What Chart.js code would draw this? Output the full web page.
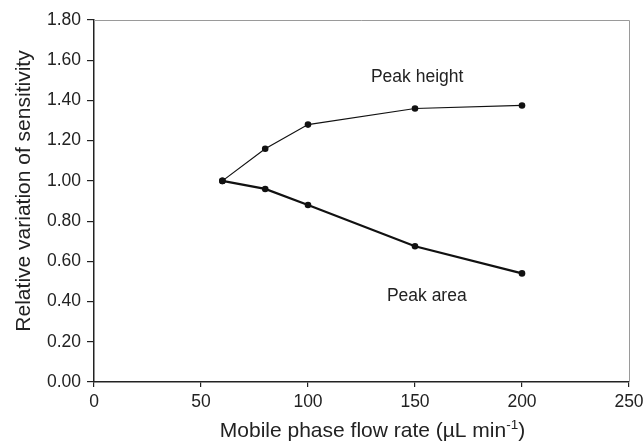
<!DOCTYPE html>
<html>
<head>
<meta charset="utf-8">
<script src="https://cdn.jsdelivr.net/npm/chart.js@4/dist/chart.umd.min.js"></script>
<style>
html,body{margin:0;padding:0;background:#fff;}
#wrap{width:644px;height:441px;position:relative;}
</style>
</head>
<body>
<div id="wrap"><canvas id="c" width="644" height="441"></canvas></div>
<script>
// ---- data ----
const flowRates = [60, 80, 100, 150, 200];
const peakHeight = [1.00, 1.16, 1.28, 1.36, 1.375];
const peakArea = [1.00, 0.96, 0.88, 0.675, 0.54];
const xTickValues = [0, 50, 100, 150, 200, 250];
const yTickValues = [0, 0.2, 0.4, 0.6, 0.8, 1.0, 1.2, 1.4, 1.6, 1.8];
const seriesNames = ['Peak height', 'Peak area'];
const labelAnchorsX = [151, 155.5];
const labelAnchorsY = [1.493, 0.403];
const xTitle = 'Mobile phase flow rate (\u00B5L min';
const xTitleSup = '-1';
const yTitle = 'Relative variation of sensitivity';

const FONT = '"Liberation Sans", Arial, sans-serif';
const TXT = '#222';

const pts = (xs, ys) => xs.map((x, i) => ({x: x, y: ys[i]}));

const decor = {
  id: 'decor',
  afterDraw(chart) {
    const ctx = chart.ctx, a = chart.chartArea;
    const xs = chart.scales.x, ys = chart.scales.y;
    ctx.save();
    // top and right frame
    ctx.strokeStyle = '#9a9a9a';
    ctx.lineWidth = 1;
    ctx.beginPath();
    ctx.moveTo(a.left, a.top + 0.5);
    ctx.lineTo(a.right + 0.5, a.top + 0.5);
    ctx.lineTo(a.right + 0.5, a.bottom);
    ctx.stroke();
    // series labels
    ctx.fillStyle = TXT;
    ctx.font = '17.5px ' + FONT;
    ctx.textAlign = 'center';
    ctx.textBaseline = 'alphabetic';
    seriesNames.forEach((n, i) => {
      ctx.fillText(n, xs.getPixelForValue(labelAnchorsX[i]), ys.getPixelForValue(labelAnchorsY[i]));
    });
    // x title with superscript
    const mainFont = '21px ' + FONT;
    const supFont = '13.5px ' + FONT;
    ctx.font = mainFont;
    ctx.textAlign = 'left';
    const w1 = ctx.measureText(xTitle).width;
    ctx.font = supFont;
    const w2 = ctx.measureText(xTitleSup).width;
    ctx.font = mainFont;
    const w3 = ctx.measureText(')').width;
    const total = w1 + w2 + w3;
    const cx = 372.5;
    let x0 = cx - total / 2;
    const base = 437;
    ctx.fillText(xTitle, x0, base);
    ctx.font = supFont;
    ctx.fillText(xTitleSup, x0 + w1, base - 8.5);
    ctx.font = mainFont;
    ctx.fillText(')', x0 + w1 + w2, base);
    // y title
    ctx.translate(30, 191);
    ctx.rotate(-Math.PI / 2);
    ctx.font = '21px ' + FONT;
    ctx.textAlign = 'center';
    ctx.textBaseline = 'alphabetic';
    ctx.fillText(yTitle, 0, 0);
    ctx.restore();
  }
};

new Chart(document.getElementById('c'), {
  type: 'scatter',
  data: {
    datasets: [
      {
        label: seriesNames[0],
        data: pts(flowRates, peakHeight),
        showLine: true,
        borderColor: '#111',
        backgroundColor: '#111',
        borderWidth: 1.2,
        pointRadius: 3.3,
        pointBorderWidth: 0,
        pointBackgroundColor: '#111'
      },
      {
        label: seriesNames[1],
        data: pts(flowRates, peakArea),
        showLine: true,
        borderColor: '#111',
        backgroundColor: '#111',
        borderWidth: 2.2,
        pointRadius: 3.3,
        pointBorderWidth: 0,
        pointBackgroundColor: '#111'
      }
    ]
  },
  options: {
    responsive: false,
    animation: false,
    devicePixelRatio: 1,
    layout: {padding: {left: 0, top: 20, right: 15, bottom: 0}},
    plugins: {legend: {display: false}, tooltip: {enabled: false}},
    scales: {
      x: {
        type: 'linear',
        min: 0, max: 250,
        afterBuildTicks: s => { s.ticks = xTickValues.map(v => ({value: v})); },
        afterFit: s => { s.height = 59; s.paddingRight = 0; s.paddingLeft = 0; },
        grid: {display: true, drawOnChartArea: false, drawTicks: true, tickLength: 5, color: '#222', lineWidth: 1.2},
        border: {display: true, color: '#222', width: 1.5},
        ticks: {color: TXT, padding: 5, font: {family: FONT, size: 17.5}, maxRotation: 0,
                callback: v => String(v)}
      },
      y: {
        type: 'linear',
        min: 0, max: 1.8,
        afterBuildTicks: s => { s.ticks = yTickValues.map(v => ({value: v})); },
        afterFit: s => { s.width = 94; },
        grid: {display: true, drawOnChartArea: false, drawTicks: true, tickLength: 7, color: '#222', lineWidth: 1.2},
        border: {display: true, color: '#222', width: 1.5},
        ticks: {color: TXT, padding: 6, font: {family: FONT, size: 17.5},
                callback: v => Number(v).toFixed(2)}
      }
    }
  },
  plugins: [decor]
});
</script>
</body>
</html>
